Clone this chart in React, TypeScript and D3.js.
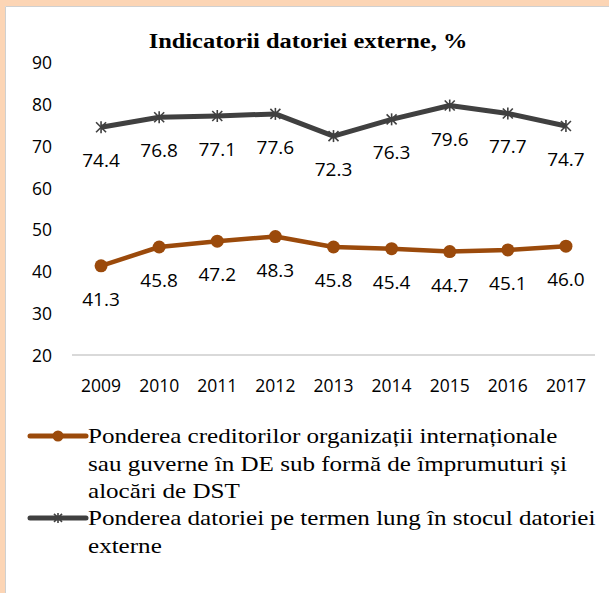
import React from "react";
import * as d3 from "d3";

const years = ["2009", "2010", "2011", "2012", "2013", "2014", "2015", "2016", "2017"];
const creditorShare = [41.3, 45.8, 47.2, 48.3, 45.8, 45.4, 44.7, 45.1, 46.0];
const longTermShare = [74.4, 76.8, 77.1, 77.6, 72.3, 76.3, 79.6, 77.7, 74.7];
const yTicks = [20, 30, 40, 50, 60, 70, 80, 90];
const title = "Indicatorii datoriei externe, %";
const legend1 = [
  "Ponderea creditorilor organizații internaționale",
  "sau guverne în DE sub formă de împrumuturi și",
  "alocări de DST",
];
const legend2 = ["Ponderea datoriei pe termen lung în stocul datoriei", "externe"];

const W = 609;
const H = 593;
const ORANGE = "#9B4A0B";
const GRAY = "#404040";
const SANS = "'Open Sans', 'Noto Sans', sans-serif";
const SERIF = "'Liberation Serif', serif";
const LH = 27.3;

function Star({ x, y, s = 5 }: { x: number; y: number; s?: number }) {
  return (
    <g stroke={GRAY} strokeWidth={1.6}>
      <line x1={x - s} y1={y - s} x2={x + s} y2={y + s} />
      <line x1={x - s} y1={y + s} x2={x + s} y2={y - s} />
      <line x1={x} y1={y - s - 1} x2={x} y2={y + s + 1} />
    </g>
  );
}

export default function App() {
  const x = d3.scaleBand().domain(years).range([72, 595]);
  const cx = (d: string) => (x(d) as number) + x.bandwidth() / 2;
  const y = d3.scaleLinear().domain([20, 90]).range([355, 62]);
  const line = d3
    .line<number>()
    .x((_, i) => cx(years[i]))
    .y((v) => y(v));

  const legendRows = [
    { lines: legend1, y0: 436, kind: "circle" },
    { lines: legend2, y0: 436 + 3 * LH, kind: "star" },
  ];

  return (
    <svg
      width={W}
      height={H}
      style={{ position: "absolute", left: 0, top: 0, background: "#fff" }}
    >
      <rect x={0} y={0} width={W} height={6} fill="#FCD5B5" />
      <rect x={0} y={0} width={5} height={H} fill="#FCD5B5" />
      <line x1={5.5} y1={6.5} x2={W} y2={6.5} stroke="#d0d0d0" strokeWidth={1} />
      <line x1={5.5} y1={6.5} x2={5.5} y2={H} stroke="#d0d0d0" strokeWidth={1} />

      <g transform="translate(308,48) scale(1.11,1)">
        <text
          x={0}
          y={0}
          textAnchor="middle"
          fontFamily={SERIF}
          fontWeight="bold"
          fontSize={22}
          fill="#000"
        >
          {title}
        </text>
      </g>

      {yTicks.map((t) => (
        <text
          key={t}
          x={52}
          y={y(t)}
          textAnchor="end"
          dominantBaseline="central"
          fontFamily={SANS}
          fontSize={17.5}
          fill="#000"
        >
          {t}
        </text>
      ))}
      <line x1={72} x2={595} y1={y(20)} y2={y(20)} stroke="#d9d9d9" strokeWidth={2} />
      {years.map((yr) => (
        <text
          key={yr}
          x={cx(yr)}
          y={385}
          textAnchor="middle"
          dominantBaseline="central"
          fontFamily={SANS}
          fontSize={17.5}
          fill="#000"
        >
          {yr}
        </text>
      ))}

      <path d={line(longTermShare) || ""} fill="none" stroke={GRAY} strokeWidth={5} strokeLinejoin="round" />
      {longTermShare.map((v, i) => (
        <Star key={i} x={cx(years[i])} y={y(v)} />
      ))}
      {longTermShare.map((v, i) => (
        <text
          key={i}
          x={cx(years[i])}
          y={y(v) + 33}
          textAnchor="middle"
          dominantBaseline="central"
          fontFamily={SANS}
          fontSize={19}
          fill="#000"
        >
          {v.toFixed(1)}
        </text>
      ))}

      <path d={line(creditorShare) || ""} fill="none" stroke={ORANGE} strokeWidth={4.5} strokeLinejoin="round" />
      {creditorShare.map((v, i) => (
        <circle key={i} cx={cx(years[i])} cy={y(v)} r={6.5} fill={ORANGE} />
      ))}
      {creditorShare.map((v, i) => (
        <text
          key={i}
          x={cx(years[i])}
          y={y(v) + 33}
          textAnchor="middle"
          dominantBaseline="central"
          fontFamily={SANS}
          fontSize={19}
          fill="#000"
        >
          {v.toFixed(1)}
        </text>
      ))}

      {legendRows.map((row, k) => (
        <g key={k}>
          <line
            x1={30}
            x2={86}
            y1={row.y0}
            y2={row.y0}
            stroke={row.kind === "circle" ? ORANGE : GRAY}
            strokeWidth={5}
            strokeLinecap="round"
          />
          {row.kind === "circle" ? (
            <circle cx={58} cy={row.y0} r={5.5} fill={ORANGE} />
          ) : (
            <Star x={58} y={row.y0} s={4} />
          )}
          <g transform={`translate(88,0) scale(1.14,1)`}>
            {row.lines.map((t, i) => (
              <text
                key={i}
                x={0}
                y={row.y0 + i * LH}
                dominantBaseline="central"
                fontFamily={SERIF}
                fontSize={22}
                fill="#000"
              >
                {t}
              </text>
            ))}
          </g>
        </g>
      ))}
    </svg>
  );
}
